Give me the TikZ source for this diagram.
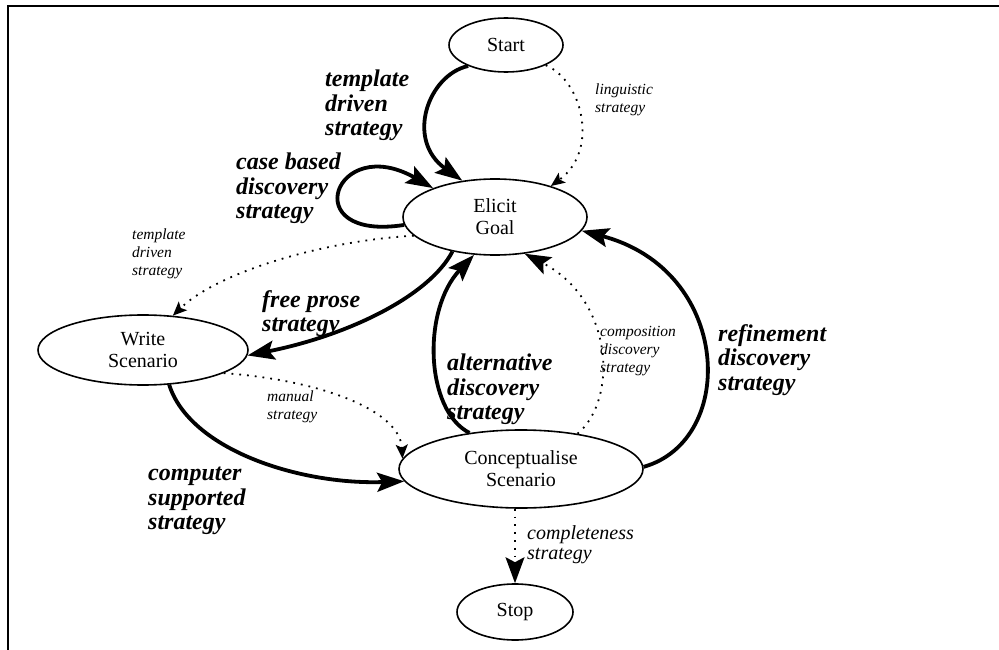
\documentclass[tikz,border=0pt]{standalone}
\usepackage{fontspec}
\setmainfont{Liberation Serif}
\usetikzlibrary{shapes.geometric,arrows.meta}
\begin{document}
\begin{tikzpicture}[x=1pt,y=-1pt,
  state/.style={draw, ellipse, line width=1.6pt, inner sep=0pt, align=center,
    font=\fontsize{20}{22}\selectfont},
  boldedge/.style={line width=3.8pt, -{Stealth[length=27pt,width=19pt,inset=5pt]}},
  dotedge/.style={line width=1.8pt, dash pattern=on 1.8pt off 6pt,
    -{Stealth[length=14pt,width=12pt,inset=3pt]}},
  dotbig/.style={dotedge, -{Stealth[length=26pt,width=19pt,inset=5pt]}},
  majorlabel/.style={anchor=north west, inner sep=0pt, align=left,
    font=\fontsize{24}{24.5}\selectfont\bfseries\itshape,
    execute at begin node=\rule{0pt}{18pt}},
  minorlabel/.style={anchor=north west, inner sep=0pt, align=left,
    font=\fontsize{15.5}{18}\selectfont\itshape,
    execute at begin node=\rule{0pt}{11.6pt}},
  plainlabel/.style={anchor=north west, inner sep=0pt, align=left,
    font=\fontsize{20}{20.5}\selectfont\itshape,
    execute at begin node=\rule{0pt}{15pt}},
]
\useasboundingbox (0,0) rectangle (999,650);

% frame
\draw[line width=2pt] (8,650) -- (8,6) -- (999,6);

% states
\node[state, minimum width=114pt, minimum height=54pt] (start) at (506,45) {Start};
\node[state, minimum width=184pt, minimum height=76pt] (elicit) at (495,217) {Elicit\\Goal};
\node[state, minimum width=210pt, minimum height=70pt] (write) at (143,350) {Write\\Scenario};
\node[state, minimum width=244pt, minimum height=78pt] (concept) at (521,469) {Conceptualise\\Scenario};
\node[state, minimum width=116pt, minimum height=56pt] (stop) at (515,612) {Stop};

% transitions
\draw[boldedge] (start.209) .. controls (428,75) and (405,140) .. (elicit.132);
\draw[dotedge] (start.333) .. controls (582,80) and (600,150) .. (elicit.29);
\draw[boldedge] (elicit.185) .. controls (295,242) and (335,132) .. (elicit.155);
\draw[dotedge] (elicit.193) .. controls (330,240) and (220,270) .. (write.49);
\draw[boldedge] (elicit.219) .. controls (430,295) and (350,335) .. (write.357);
\draw[boldedge] (concept.145) .. controls (425,410) and (422,310) .. (elicit.241);
\draw[dotbig] (concept.32) .. controls (618,400) and (614,300) .. (elicit.309);
\draw[boldedge] (concept.1) .. controls (738,440) and (732,270) .. (elicit.351);
\draw[dotedge] (write.344) .. controls (320,380) and (400,410) .. (concept.175);
\draw[boldedge] (write.307) .. controls (190,450) and (300,485) .. (concept.186);
\draw[dotbig] (concept.south -| stop.north) -- (stop.north);

% strategy labels
\node[majorlabel] (l-template) at (325,70) {template\\driven\\strategy};
\node[minorlabel] (l-linguistic) at (595,83.4) {linguistic\\strategy};
\node[majorlabel] (l-casebased) at (236,153) {case based\\discovery\\strategy};
\node[minorlabel] (l-template2) at (132,228.4) {template\\driven\\strategy};
\node[majorlabel] (l-freeprose) at (262,290) {free prose\\strategy};
\node[majorlabel] (l-alt) at (447,354) {alternative\\discovery\\strategy};
\node[minorlabel] (l-comp) at (600,326.4) {composition\\discovery\\strategy};
\node[majorlabel] (l-ref) at (718,324) {refinement\\discovery\\strategy};
\node[minorlabel] (l-manual) at (267,390.4) {manual\\strategy};
\node[majorlabel] (l-computer) at (148,467) {computer\\supported\\strategy};
\node[plainlabel] (l-complete) at (527,525) {completeness\\strategy};
\end{tikzpicture}
\end{document}
